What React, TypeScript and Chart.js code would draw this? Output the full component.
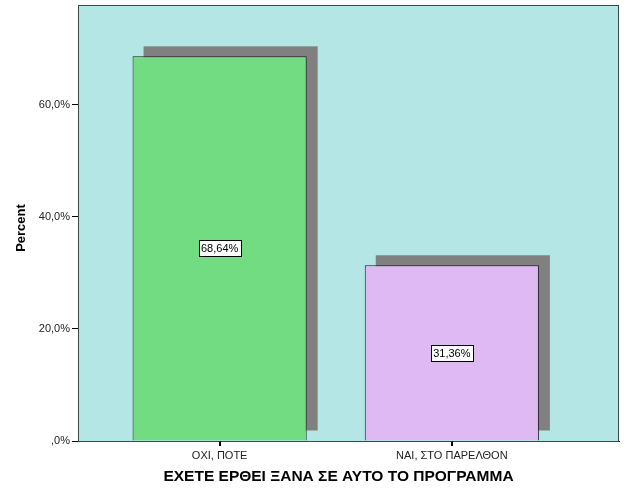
import { useEffect, useRef } from 'react';
import { Chart, registerables } from 'chart.js';

Chart.register(...registerables);

const categories = ['ΟΧΙ, ΠΟΤΕ', 'ΝΑΙ, ΣΤΟ ΠΑΡΕΛΘΟΝ'];
const percents = [68.64, 31.36];
const barColors = ['#72DC82', '#DEBAF3'];
const yTicks = [0, 20, 40, 60];
const xTitle = 'ΕΧΕΤΕ ΕΡΘΕΙ ΞΑΝΑ ΣΕ ΑΥΤΟ ΤΟ ΠΡΟΓΡΑΜΜΑ';
const yTitle = 'Percent';

const FONT = '"Liberation Sans", Arial, sans-serif';

// SPSS style: comma decimal, no leading zero
function fmt(v: number, digits: number) {
    const s = v.toFixed(digits).replace('.', ',');
    return s.startsWith('0,') ? s.slice(1) : s;
}

const backdrop = {
    id: 'backdrop',
    beforeDraw(chart: any) {
        const { ctx, chartArea: a } = chart;
        ctx.save();
        ctx.fillStyle = '#B4E6E6';
        ctx.fillRect(a.left, a.top, a.width, a.height);
        ctx.restore();
    },
    beforeDatasetsDraw(chart: any) {
        const { ctx } = chart;
        ctx.save();
        ctx.fillStyle = '#808080';
        chart.getDatasetMeta(0).data.forEach((bar: any) => {
            const { x, y, base, width } = bar.getProps(['x', 'y', 'base', 'width'], true);
            ctx.fillRect(x - width / 2 + 11, y - 10, width, base - y);
        });
        ctx.restore();
    },
    afterDatasetsDraw(chart: any) {
        const { ctx, chartArea: a } = chart;
        ctx.save();
        ctx.font = '11px ' + FONT;
        ctx.textAlign = 'center';
        ctx.textBaseline = 'middle';
        chart.getDatasetMeta(0).data.forEach((bar: any, i: number) => {
            const { x, y, base } = bar.getProps(['x', 'y', 'base'], true);
            const cy = (y + base) / 2;
            const text = fmt(percents[i], 2) + '%';
            const w = Math.round(ctx.measureText(text).width) + 5;
            const h = 16;
            const bx = Math.round(x - w / 2) + 0.5;
            const by = Math.round(cy - h / 2) + 0.5;
            ctx.fillStyle = '#ffffff';
            ctx.fillRect(bx, by, w, h);
            ctx.strokeStyle = '#000000';
            ctx.lineWidth = 1;
            ctx.strokeRect(bx, by, w, h);
            ctx.fillStyle = '#000000';
            ctx.fillText(text, x, cy + 1);
        });
        // plot frame
        ctx.strokeStyle = '#3a4a4a';
        ctx.strokeRect(a.left + 0.5, a.top + 0.5, a.width - 1, a.height);
        ctx.restore();
    },
    afterDraw(chart: any) {
        const { ctx, chartArea: a } = chart;
        const xs = chart.scales.x;
        ctx.save();
        // category tick marks under the axis
        ctx.strokeStyle = '#000';
        ctx.lineWidth = 1;
        xs.ticks.forEach((_: any, i: number) => {
            const px = Math.round(xs.getPixelForTick(i)) + 0.5;
            ctx.beginPath();
            ctx.moveTo(px, a.bottom);
            ctx.lineTo(px, a.bottom + 5);
            ctx.stroke();
        });
        // axis titles (SPSS places them slightly off the axis centre)
        ctx.fillStyle = '#000';
        ctx.textAlign = 'center';
        ctx.textBaseline = 'middle';
        ctx.font = 'bold 15.5px ' + FONT;
        ctx.fillText(xTitle, (a.left + a.right) / 2 - 10, a.bottom + 36);
        ctx.translate(21, (a.top + a.bottom) / 2 + 5);
        ctx.rotate(-Math.PI / 2);
        ctx.font = 'bold 13px ' + FONT;
        ctx.fillText(yTitle, 0, 0);
        ctx.restore();
    }
};

export default function App() {
    const canvasRef = useRef<HTMLCanvasElement>(null);

    useEffect(() => {
        document.body.style.margin = '0';
        if (!canvasRef.current) return;
        const chart = new Chart(canvasRef.current, {
            type: 'bar',
            data: {
                datasets: [{
                    label: yTitle,
                    data: categories.map((_, i) => ({ x: i + 1, y: percents[i] })),
                    backgroundColor: barColors,
                    borderColor: '#1e1e1e',
                    borderWidth: 1,
                    barPercentage: 0.75,
                    categoryPercentage: 1
                }]
            },
            options: {
                animation: false,
                responsive: false,
                layout: { padding: { top: 5, right: 7, left: 0, bottom: 0 } },
                plugins: {
                    legend: { display: false },
                    tooltip: { enabled: false }
                },
                scales: {
                    x: {
                        type: 'linear',
                        min: 0.39,
                        max: 2.72,
                        offset: false,
                        afterBuildTicks: (s: any) => { s.ticks = categories.map((_, i) => ({ value: i + 1 })); },
                        afterFit: (s: any) => { s.height = 60; s.paddingLeft = 0; s.paddingRight = 0; },
                        ticks: {
                            callback: (v: any) => categories[Number(v) - 1] ?? '',
                            font: { family: FONT, size: 11 },
                            color: '#222',
                            padding: 3,
                            maxRotation: 0
                        },
                        grid: { offset: false, drawOnChartArea: false, drawTicks: true, tickLength: 5, tickColor: '#000' },
                        border: { display: true, color: '#000' },
                        title: { display: false }
                    },
                    y: {
                        min: 0,
                        max: 77.8,
                        afterBuildTicks: (s: any) => { s.ticks = yTicks.map(v => ({ value: v })); },
                        afterFit: (s: any) => { s.width = 78; s.paddingTop = 0; s.paddingBottom = 0; },
                        ticks: {
                            callback: (v: any) => fmt(Number(v), 1) + '%',
                            font: { family: FONT, size: 11 },
                            color: '#222',
                            padding: 2
                        },
                        grid: { drawOnChartArea: false, drawTicks: true, tickLength: 6, tickColor: '#000' },
                        border: { display: true, color: '#000' },
                        title: { display: false }
                    }
                }
            },
            plugins: [backdrop]
        });
        return () => chart.destroy();
    }, []);

    return (
        <div style={{ width: 626, height: 501, background: '#fff' }}>
            <canvas ref={canvasRef} width={626} height={501} />
        </div>
    );
}
